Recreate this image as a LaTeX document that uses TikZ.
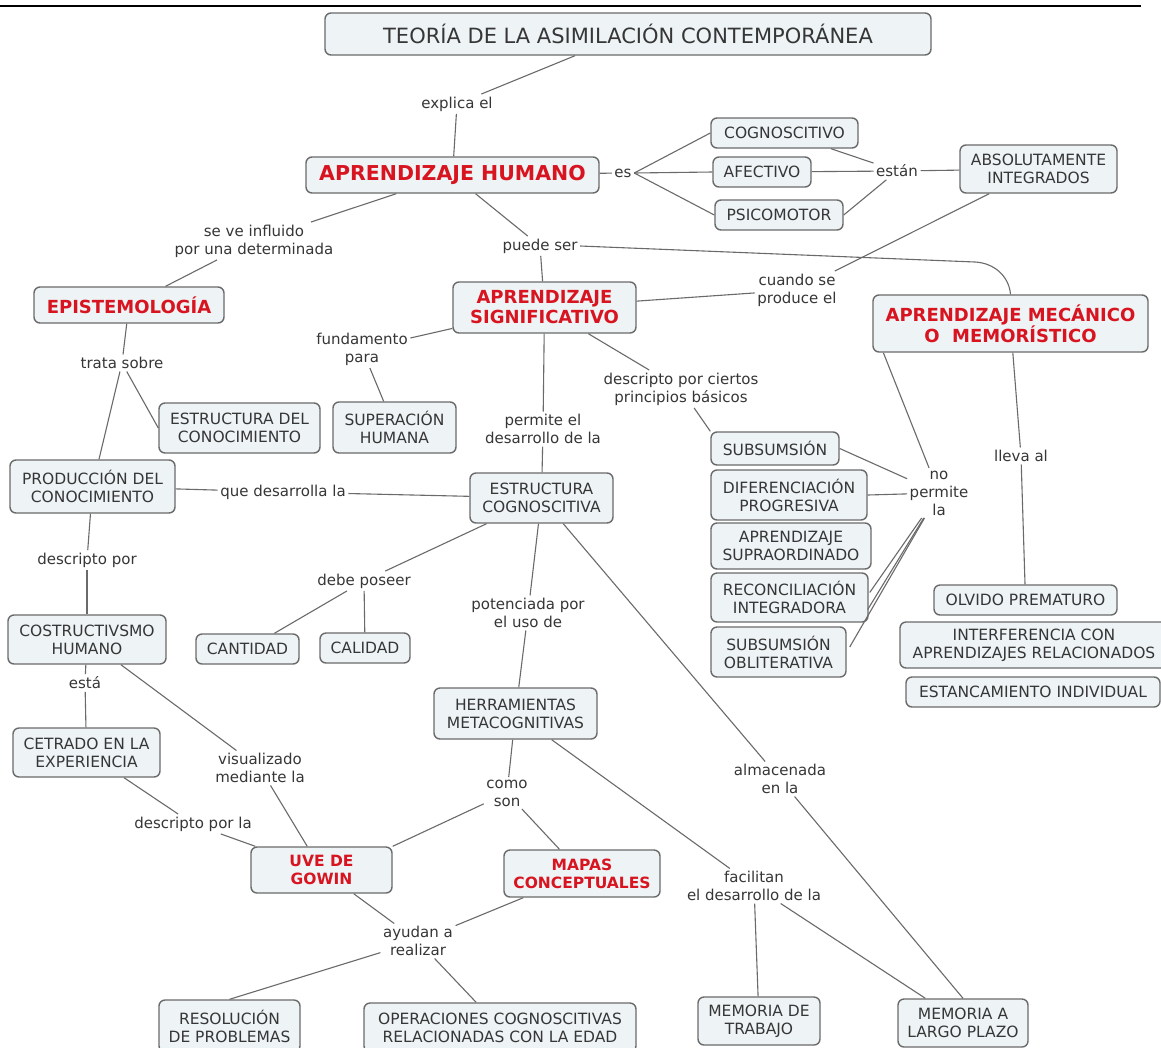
\documentclass[tikz,border=0pt]{standalone}
\usepackage{fontspec}
\setmainfont{DejaVu Sans}
\usetikzlibrary{calc}
\definecolor{boxfill}{HTML}{EEF3F5}
\definecolor{boxdraw}{HTML}{6A6A6A}
\definecolor{linkcol}{HTML}{6A6A6A}
\definecolor{txt}{HTML}{363636}
\definecolor{redtxt}{HTML}{D7141F}
\begin{document}
\begin{tikzpicture}[x=1pt,y=-1pt,
 concept/.style={draw=boxdraw, fill=boxfill, line width=1.4pt, rounded corners=6pt, align=center, inner sep=0pt, text=txt, font=\fontsize{15.5}{18}\selectfont},
 keyc/.style={concept, text=redtxt, font=\fontsize{18}{20}\selectfont\bfseries},
 smallkey/.style={keyc, font=\fontsize{15.5}{18}\selectfont\bfseries},
 sz/.style 2 args={minimum width=#1pt, minimum height=#2pt},
 lnk/.style={align=center, inner sep=2.5pt, text=txt, font=\fontsize{15}{18}\selectfont},
 conn/.style={draw=linkcol, line width=1.1pt},
]
\useasboundingbox (0,0) rectangle (1161,1047);
\fill[white] (0,0) rectangle (1161,1047);
\draw[line width=2.8pt, black] (0,6) -- (1141,6);

% concepts
\node[concept, sz={606}{42}, font=\fontsize{21}{24}\selectfont] (title) at (628,34) {TEORÍA DE LA ASIMILACIÓN CONTEMPORÁNEA};
\node[keyc, sz={293}{36}, font=\fontsize{20.5}{22}\selectfont\bfseries] (ah) at (452.5,175) {APRENDIZAJE HUMANO};
\node[concept, sz={147}{30}] (cog) at (784.5,133) {COGNOSCITIVO};
\node[concept, sz={98}{30}] (afe) at (762,172) {AFECTIVO};
\node[concept, sz={128}{30}] (psi) at (779,215) {PSICOMOTOR};
\node[concept, sz={157}{48}] (abs) at (1038.5,169) {ABSOLUTAMENTE\\INTEGRADOS};
\node[keyc, sz={190}{36}] (epi) at (129,305) {EPISTEMOLOGÍA};
\node[keyc, sz={183}{51}] (as) at (544.5,307.5) {APRENDIZAJE\\SIGNIFICATIVO};
\node[keyc, sz={275}{57}] (amm) at (1010.5,323.5) {APRENDIZAJE MECÁNICO\\O\ \ MEMORÍSTICO};
\node[concept, sz={161}{50}] (edc) at (239.5,428) {ESTRUCTURA DEL\\CONOCIMIENTO};
\node[concept, sz={123}{51}] (sup) at (394.5,427.5) {SUPERACIÓN\\HUMANA};
\node[concept, sz={165}{53}] (prod) at (92.5,486.5) {PRODUCCIÓN DEL\\CONOCIMIENTO};
\node[concept, sz={143}{50}] (ec) at (541.5,498) {ESTRUCTURA\\COGNOSCITIVA};
\node[concept, sz={128}{33}] (subs) at (775,448.5) {SUBSUMSIÓN};
\node[concept, sz={156}{50}] (dif) at (789,495) {DIFERENCIACIÓN\\PROGRESIVA};
\node[concept, sz={160}{46}] (supra) at (791,546) {APRENDIZAJE\\SUPRAORDINADO};
\node[concept, sz={157}{49}] (recon) at (789.5,597.5) {RECONCILIACIÓN\\INTEGRADORA};
\node[concept, sz={135}{50}] (oblit) at (778.5,652) {SUBSUMSIÓN\\OBLITERATIVA};
\node[concept, sz={183}{30}] (olv) at (1025.5,600) {OLVIDO PREMATURO};
\node[concept, sz={268}{46}] (inter) at (1034,645) {INTERFERENCIA CON\\APRENDIZAJES RELACIONADOS};
\node[concept, sz={254}{30}] (est) at (1033,692) {ESTANCAMIENTO INDIVIDUAL};
\node[concept, sz={103}{30}] (cant) at (247.5,649) {CANTIDAD};
\node[concept, sz={90}{30}] (cal) at (365,648) {CALIDAD};
\node[concept, sz={158}{49}] (cos) at (87,639.5) {COSTRUCTIVSMO\\HUMANO};
\node[concept, sz={147}{49}] (cet) at (86.5,752.5) {CETRADO EN LA\\EXPERIENCIA};
\node[concept, sz={163}{51}] (herr) at (515.5,713.5) {HERRAMIENTAS\\METACOGNITIVAS};
\node[smallkey, sz={141}{46}] (uve) at (321.5,870) {UVE DE\\GOWIN};
\node[smallkey, sz={156}{47}] (map) at (582,873.5) {MAPAS\\CONCEPTUALES};
\node[concept, sz={141}{52}] (res) at (229.5,1026) {RESOLUCIÓN\\DE PROBLEMAS};
\node[concept, sz={272}{49}] (ope) at (500,1027.5) {OPERACIONES COGNOSCITIVAS\\RELACIONADAS CON LA EDAD};
\node[concept, sz={122}{48}] (mt) at (759,1021) {MEMORIA DE\\TRABAJO};
\node[concept, sz={130}{48}] (mlp) at (963,1023) {MEMORIA A\\LARGO PLAZO};

% linking phrases
\node[lnk] (explica) at (457,104) {explica el};
\node[lnk] (es) at (623,173) {es};
\node[lnk] (estan) at (897,171) {están};
\node[lnk] (seve) at (254,241) {se ve influido\\por una determinada};
\node[lnk] (puede) at (540,246) {puede ser};
\node[lnk] (cuando) at (797,290) {cuando se\\produce el};
\node[lnk] (fund) at (362,349) {fundamento\\para};
\node[lnk] (trata) at (122,363) {trata sobre};
\node[lnk] (desc) at (681,389) {descripto por ciertos\\principios básicos};
\node[lnk] (perm) at (543,429) {permite el\\desarrollo de la};
\node[lnk] (nop) at (939,493) {no\\permite\\la};
\node[lnk] (lleva) at (1021,456) {lleva al};
\node[lnk] (que) at (283,492) {que desarrolla la};
\node[lnk] (descpor) at (87,560) {descripto por};
\node[lnk] (debe) at (364,581) {debe poseer};
\node[lnk] (pot) at (528,613) {potenciada por\\el uso de};
\node[lnk] (esta) at (85,683) {está};
\node[lnk] (vis) at (260,768) {visualizado\\mediante la};
\node[lnk] (alm) at (780,779) {almacenada\\en la};
\node[lnk] (como) at (507,793) {como\\son};
\node[lnk] (descla) at (193,824) {descripto por la};
\node[lnk] (fac) at (754,886) {facilitan\\el desarrollo de la};
\node[lnk] (ayu) at (418,941) {ayudan a\\realizar};

\coordinate (bend) at (975,262);

% connectors
\begin{scope}[conn]
\draw (title) -- (explica);
\draw (explica) -- (ah);
\draw (ah) -- (es);
\draw (es.east) -- (cog.west);
\draw (es.east) -- (afe.west);
\draw (es.east) -- (psi.west);
\draw (cog) -- (estan);
\draw (afe) -- (estan);
\draw (psi.east) -- (estan);
\draw (estan) -- (abs);
\draw (abs) -- (cuando);
\draw (cuando) -- (as);
\draw (ah) -- (seve);
\draw (seve) -- (epi);
\draw (ah) -- (puede);
\draw (puede) -- (as);
\draw (puede.east) -- (bend) to[out=-3,in=95] (amm.north);
\draw (as) -- (fund);
\draw (fund) -- (sup);
\draw (epi) -- (trata);
\draw (trata) -- (prod);
\draw (trata) -- (edc.west);
\draw (as) -- (perm);
\draw (perm) -- (ec);
\draw (as) -- (desc);
\draw (desc) -- (subs.north west);
\draw ($(amm.south west)!0.04!(amm.south east)$) -- (nop);
\draw (subs.east) -- (nop);
\draw (dif.east) -- (nop);
\draw (nop) -- ($(recon.east)+(1,-5)$);
\draw (nop) -- ($(recon.east)+(-1,12)$);
\draw (nop) -- ($(oblit.east)+(3,-5)$);
\draw (amm) -- (lleva);
\draw (lleva) -- (olv);
\draw (prod) -- (que);
\draw (que) -- (ec);
\draw (prod) -- (descpor);
\draw (descpor) -- (cos);
\draw (ec) -- (debe);
\draw (debe) -- (cant);
\draw (debe) -- (cal);
\draw (ec) -- (pot);
\draw (pot) -- (herr);
\draw (ec) -- (alm);
\draw (alm) -- (mlp.north);
\draw (cos) -- (esta);
\draw (esta) -- (cet);
\draw (cos) -- (vis);
\draw (vis) -- (uve);
\draw (cet) -- (descla);
\draw (descla) -- (uve);
\draw (herr) -- (como);
\draw (como) -- (uve.north east);
\draw (como) -- (map);
\draw (herr) -- (fac);
\draw (fac) -- (mt);
\draw (fac) -- (mlp);
\draw (uve) -- (ayu);
\draw (map) -- (ayu);
\draw (ayu) -- (res.north);
\draw (ayu) -- (ope);
\end{scope}
\end{tikzpicture}
\end{document}
